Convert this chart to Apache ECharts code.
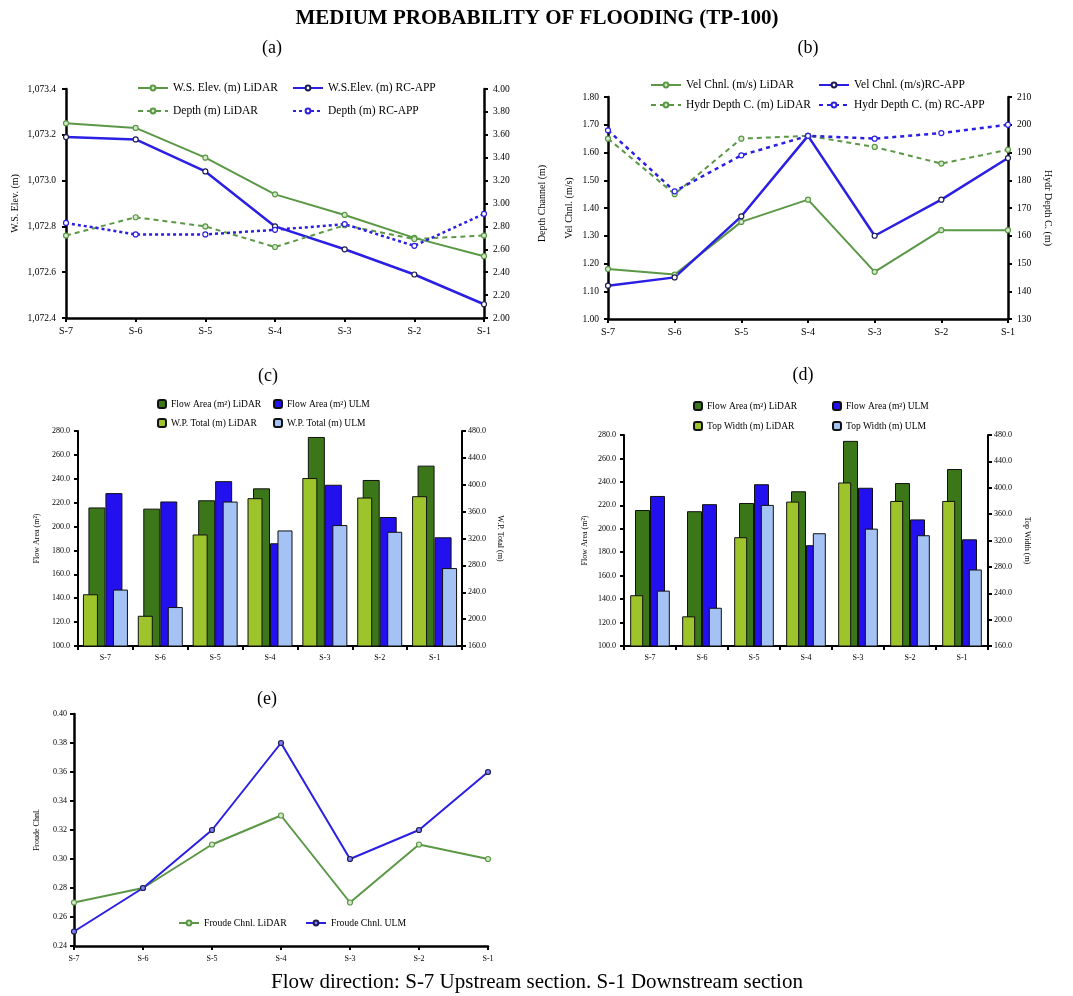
<!DOCTYPE html>
<html>
<head>
<meta charset="utf-8">
<script src="https://cdn.jsdelivr.net/npm/echarts@6/dist/echarts.min.js"></script>
<style>
  html, body { margin: 0; padding: 0; background: #ffffff; }
  #chart { width: 1073px; height: 996px; }
</style>
</head>
<body>
<div id="chart"></div>
<script>
// Cross sections, upstream to downstream
const sections = ['S-7', 'S-6', 'S-5', 'S-4', 'S-3', 'S-2', 'S-1'];

// (a) water surface elevation and channel depth
const wsElevLidar = [1073.25, 1073.23, 1073.10, 1072.94, 1072.85, 1072.75, 1072.67];
const wsElevRcApp = [1073.19, 1073.18, 1073.04, 1072.80, 1072.70, 1072.59, 1072.46];
const depthLidar = [2.72, 2.88, 2.80, 2.62, 2.81, 2.69, 2.72];
const depthRcApp = [2.83, 2.73, 2.73, 2.77, 2.82, 2.63, 2.91];

// (b) channel velocity and hydraulic depth
const velLidar = [1.18, 1.16, 1.35, 1.43, 1.17, 1.32, 1.32];
const velRcApp = [1.12, 1.15, 1.37, 1.66, 1.30, 1.43, 1.58];
const hydrDepthLidar = [195, 175, 195, 196, 192, 186, 191];
const hydrDepthRcApp = [198, 176, 189, 196, 195, 197, 200];

// (c) flow area and wetted perimeter
const flowAreaLidar = [216, 215, 222, 232, 275, 239, 251];
const flowAreaUlm = [228, 221, 238, 186, 235, 208, 191];
const wpTotalLidar = [237, 205, 326, 380, 410, 381, 383];
const wpTotalUlm = [244, 218, 375, 332, 340, 330, 276];

// (d) flow area and top width
const topWidthLidar = [237, 205, 325, 379, 408, 380, 380];
const topWidthUlm = [244, 218, 374, 331, 338, 328, 276];

// (e) Froude number
const froudeLidar = [0.27, 0.28, 0.31, 0.33, 0.27, 0.31, 0.30];
const froudeUlm = [0.25, 0.28, 0.32, 0.38, 0.30, 0.32, 0.36];

// Axis ranges [min, max, interval]
const rangeWsElev = [1072.4, 1073.4, 0.2];
const rangeDepth = [2.0, 4.0, 0.2];
const rangeVel = [1.0, 1.8, 0.1];
const rangeHydr = [130, 210, 10];
const rangeArea = [100, 280, 20];
const rangeWidth = [160, 480, 40];
const rangeFroude = [0.24, 0.40, 0.02];

const FONT = '"Liberation Serif", "Times New Roman", serif';
const LINE_GREEN = '#5b9846';
const LINE_BLUE = '#2b1fe4';
const BAR_DARK_GREEN = '#3b7619';
const BAR_BLUE = '#2210ef';
const BAR_LIME = '#9dc42b';
const BAR_LIGHT_BLUE = '#a4c2f4';

function thousands(v, digits) {
  const s = v.toFixed(digits);
  const parts = s.split('.');
  parts[0] = parts[0].replace(/\B(?=(\d{3})+(?!\d))/g, ',');
  return parts.join('.');
}

function gridBox(l, t, r, b) {
  return { left: l, top: t, width: r - l, height: b - t };
}

function catAxis(gridIndex, opts) {
  const o = opts || {};
  return {
    type: 'category',
    gridIndex: gridIndex,
    data: sections,
    show: o.show !== false,
    boundaryGap: !!o.boundaryGap,
    axisLine: { show: true, onZero: false, lineStyle: { color: '#000', width: o.lineWidth || 2.5 } },
    axisTick: { show: true, alignWithLabel: !o.boundaryGap, length: 4, lineStyle: { color: '#000', width: 2 } },
    axisLabel: { color: '#000', fontSize: o.fontSize || 10, margin: o.margin || 8, fontFamily: FONT },
    splitLine: { show: false }
  };
}

function valAxis(gridIndex, position, range, fmt, name, nameGap, opts) {
  const o = opts || {};
  return {
    type: 'value',
    gridIndex: gridIndex,
    position: position,
    min: range[0],
    max: range[1],
    interval: range[2],
    name: name,
    nameLocation: 'middle',
    nameGap: nameGap,
    nameRotate: o.nameRotate,
    nameTextStyle: { color: '#000', fontSize: o.nameFontSize || 10, fontFamily: FONT },
    axisLine: { show: true, lineStyle: { color: '#000', width: o.lineWidth || 2.5 } },
    axisTick: { show: true, length: 4, lineStyle: { color: '#000', width: 2 } },
    axisLabel: { color: '#000', fontSize: o.fontSize || 10, margin: o.margin || 8, fontFamily: FONT, formatter: fmt },
    splitLine: { show: false }
  };
}

function legendItem(name, x, y, opts) {
  const o = opts || {};
  return {
    data: [name],
    left: x,
    top: y,
    padding: 0,
    itemGap: 0,
    itemWidth: o.itemWidth || 30,
    itemHeight: o.itemHeight || 6,
    selectedMode: false,
    textStyle: { color: '#000', fontSize: o.fontSize || 11.5, fontFamily: FONT }
  };
}

function lineSeries(name, x, y, data, color, width, dash, marker, markerBorder) {
  return {
    name: name,
    type: 'line',
    xAxisIndex: x,
    yAxisIndex: y,
    data: data,
    symbol: 'circle',
    symbolSize: 5,
    showAllSymbol: true,
    lineStyle: { color: color, width: width, type: dash || 'solid' },
    itemStyle: { color: marker, borderColor: markerBorder, borderWidth: 1.2 },
    emphasis: { disabled: true }
  };
}

function barSeries(name, x, y, data, color, width, gap) {
  return {
    name: name,
    type: 'bar',
    xAxisIndex: x,
    yAxisIndex: y,
    data: data,
    barWidth: width,
    barGap: gap,
    itemStyle: { color: color, borderColor: '#111', borderWidth: 1 },
    emphasis: { disabled: true }
  };
}

const chart = echarts.init(document.getElementById('chart'), null, { renderer: 'canvas' });

const squareLegend = { itemWidth: 8, itemHeight: 8, fontSize: 9.5 };

const option = {
  animation: false,
  backgroundColor: '#ffffff',
  textStyle: { fontFamily: FONT },
  graphic: [
    { type: 'text', x: 537, y: 19, style: { text: 'MEDIUM PROBABILITY OF FLOODING (TP-100)', font: 'bold 21px ' + FONT, fill: '#000', align: 'center', verticalAlign: 'middle' } },
    { type: 'text', x: 272, y: 48, style: { text: '(a)', font: '18px ' + FONT, fill: '#000', align: 'center', verticalAlign: 'middle' } },
    { type: 'text', x: 808, y: 48, style: { text: '(b)', font: '18px ' + FONT, fill: '#000', align: 'center', verticalAlign: 'middle' } },
    { type: 'text', x: 268, y: 376, style: { text: '(c)', font: '18px ' + FONT, fill: '#000', align: 'center', verticalAlign: 'middle' } },
    { type: 'text', x: 803, y: 375, style: { text: '(d)', font: '18px ' + FONT, fill: '#000', align: 'center', verticalAlign: 'middle' } },
    { type: 'text', x: 267, y: 699, style: { text: '(e)', font: '18px ' + FONT, fill: '#000', align: 'center', verticalAlign: 'middle' } },
    { type: 'text', x: 537, y: 982, style: { text: 'Flow direction: S-7 Upstream section. S-1 Downstream section', font: '21px ' + FONT, fill: '#000', align: 'center', verticalAlign: 'middle' } }
  ],
  grid: [
    gridBox(66, 89, 484, 318),    // (a)
    gridBox(608, 97, 1008, 319),  // (b)
    gridBox(78, 431, 462, 646),   // (c)
    gridBox(624, 435, 988, 646),  // (d)
    gridBox(74, 714, 488, 946)    // (e)
  ],
  xAxis: [
    catAxis(0, { fontSize: 10, margin: 8 }),
    catAxis(1, { fontSize: 10, margin: 8 }),
    catAxis(2, { boundaryGap: true, fontSize: 8, margin: 8, lineWidth: 2 }),
    catAxis(2, { boundaryGap: true, show: false }),
    catAxis(3, { boundaryGap: true, fontSize: 8, margin: 8, lineWidth: 2 }),
    catAxis(3, { boundaryGap: true, show: false }),
    catAxis(4, { fontSize: 8, margin: 9 })
  ],
  yAxis: [
    valAxis(0, 'left', rangeWsElev, v => thousands(v, 1), 'W.S. Elev. (m)', 46, { fontSize: 9.5, margin: 10 }),
    valAxis(0, 'right', rangeDepth, v => v.toFixed(2), 'Depth Channel (m)', 53, { fontSize: 9.5, margin: 9 }),
    valAxis(1, 'left', rangeVel, v => v.toFixed(2), 'Vel Chnl. (m/s)', 34, { fontSize: 9.5, margin: 9 }),
    valAxis(1, 'right', rangeHydr, v => v.toFixed(0), 'Hydr Depth C. (m)', 35, { fontSize: 9.5, margin: 9, nameRotate: -90 }),
    valAxis(2, 'left', rangeArea, v => v.toFixed(1), 'Flow Area (m²)', 37, { fontSize: 8, nameFontSize: 8, margin: 8, lineWidth: 2 }),
    valAxis(2, 'right', rangeWidth, v => v.toFixed(1), 'W.P. Total (m)', 34, { fontSize: 8, nameFontSize: 8, margin: 6, lineWidth: 2, nameRotate: -90 }),
    valAxis(3, 'left', rangeArea, v => v.toFixed(1), 'Flow Area (m²)', 35, { fontSize: 8, nameFontSize: 8, margin: 8, lineWidth: 2 }),
    valAxis(3, 'right', rangeWidth, v => v.toFixed(1), 'Top Width (m)', 35, { fontSize: 8, nameFontSize: 8, margin: 6, lineWidth: 2, nameRotate: -90 }),
    valAxis(4, 'left', rangeFroude, v => v.toFixed(2), 'Froude Chnl.', 33, { fontSize: 8, nameFontSize: 8, margin: 7 })
  ],
  legend: [
    legendItem('W.S. Elev. (m) LiDAR', 137, 82),
    legendItem('W.S.Elev. (m) RC-APP', 292, 82),
    legendItem('Depth (m) LiDAR', 137, 105),
    legendItem('Depth (m) RC-APP', 292, 105),

    legendItem('Vel Chnl. (m/s) LiDAR', 650, 79),
    legendItem('Vel Chnl. (m/s)RC-APP', 818, 79),
    legendItem('Hydr Depth C. (m) LiDAR', 650, 99),
    legendItem('Hydr Depth C. (m) RC-APP', 818, 99),

    legendItem('Flow Area (m²) LiDAR', 157, 399, squareLegend),
    legendItem('Flow Area (m²) ULM', 273, 399, squareLegend),
    legendItem('W.P. Total (m) LiDAR', 157, 418, squareLegend),
    legendItem('W.P. Total (m) ULM', 273, 418, squareLegend),

    legendItem('Flow Area (m²) LiDAR', 693, 401, squareLegend),
    legendItem('Flow Area (m²) ULM', 832, 401, squareLegend),
    legendItem('Top Width (m) LiDAR', 693, 421, squareLegend),
    legendItem('Top Width (m) ULM', 832, 421, squareLegend),

    legendItem('Froude Chnl. LiDAR', 178, 918, { itemWidth: 20, fontSize: 9.7 }),
    legendItem('Froude Chnl. ULM', 305, 918, { itemWidth: 20, fontSize: 9.7 })
  ],
  series: [
    // (a)
    lineSeries('W.S. Elev. (m) LiDAR', 0, 0, wsElevLidar, LINE_GREEN, 2, 'solid', '#d5e8cc', LINE_GREEN),
    lineSeries('W.S.Elev. (m) RC-APP', 0, 0, wsElevRcApp, LINE_BLUE, 2.5, 'solid', '#ffffff', '#1c1c50'),
    lineSeries('Depth (m) LiDAR', 0, 1, depthLidar, LINE_GREEN, 2, [5, 4], '#d5e8cc', LINE_GREEN),
    lineSeries('Depth (m) RC-APP', 0, 1, depthRcApp, LINE_BLUE, 2.5, [3, 3], '#ffffff', LINE_BLUE),
    // (b)
    lineSeries('Vel Chnl. (m/s) LiDAR', 1, 2, velLidar, LINE_GREEN, 2, 'solid', '#d5e8cc', LINE_GREEN),
    lineSeries('Vel Chnl. (m/s)RC-APP', 1, 2, velRcApp, LINE_BLUE, 2.5, 'solid', '#ffffff', '#1c1c50'),
    lineSeries('Hydr Depth C. (m) LiDAR', 1, 3, hydrDepthLidar, LINE_GREEN, 2, [5, 4], '#d5e8cc', LINE_GREEN),
    lineSeries('Hydr Depth C. (m) RC-APP', 1, 3, hydrDepthRcApp, LINE_BLUE, 2.5, [4, 4], '#ffffff', LINE_BLUE),
    // (c)
    barSeries('Flow Area (m²) LiDAR', 2, 4, flowAreaLidar, BAR_DARK_GREEN, 17, '0%'),
    barSeries('Flow Area (m²) ULM', 2, 4, flowAreaUlm, BAR_BLUE, 17, '0%'),
    barSeries('W.P. Total (m) LiDAR', 3, 5, wpTotalLidar, BAR_LIME, 15, '100%'),
    barSeries('W.P. Total (m) ULM', 3, 5, wpTotalUlm, BAR_LIGHT_BLUE, 15, '100%'),
    // (d)
    barSeries('Flow Area (m²) LiDAR', 4, 6, flowAreaLidar, BAR_DARK_GREEN, 15, '0%'),
    barSeries('Flow Area (m²) ULM', 4, 6, flowAreaUlm, BAR_BLUE, 15, '0%'),
    barSeries('Top Width (m) LiDAR', 5, 7, topWidthLidar, BAR_LIME, 13, '105%'),
    barSeries('Top Width (m) ULM', 5, 7, topWidthUlm, BAR_LIGHT_BLUE, 13, '105%'),
    // (e)
    lineSeries('Froude Chnl. LiDAR', 6, 8, froudeLidar, LINE_GREEN, 2, 'solid', '#d5e8cc', LINE_GREEN),
    lineSeries('Froude Chnl. ULM', 6, 8, froudeUlm, LINE_BLUE, 2, 'solid', '#8080ff', '#1c1c50')
  ]
};

chart.setOption(option);
</script>
</body>
</html>
